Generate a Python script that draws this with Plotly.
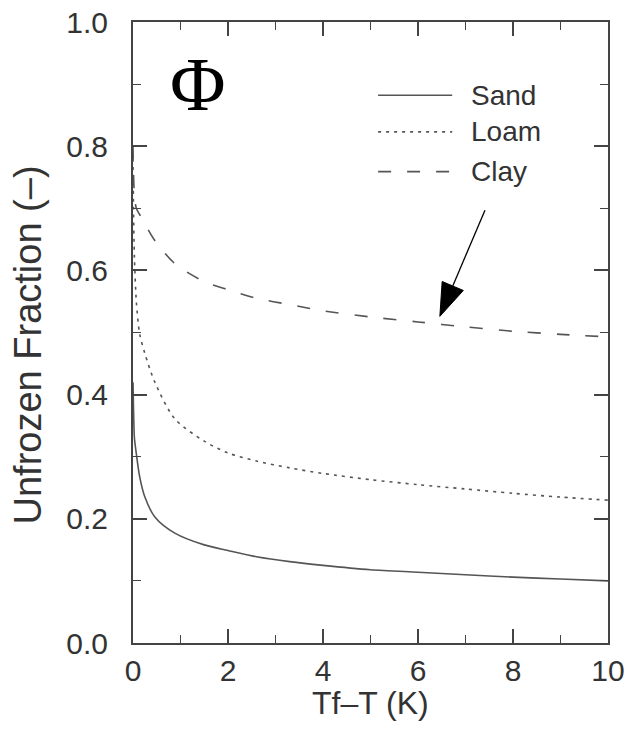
import plotly.graph_objects as go

# Temperature depression below freezing point, Tf - T (K)
tf_minus_t = [0, 0.01, 0.03, 0.07, 0.14, 0.25, 0.46, 0.88, 1.5, 2.0, 2.6,
              3.3, 4.0, 5.0, 6.0, 7.0, 8.0, 9.0, 10.0]

# Unfrozen water fraction for each soil type
sand = [0.42, 0.38, 0.33, 0.305, 0.268, 0.235, 0.203, 0.177, 0.158, 0.149,
        0.139, 0.131, 0.125, 0.118, 0.114, 0.110, 0.106, 0.103, 0.100]
loam = [0.78, 0.70, 0.62, 0.55, 0.498, 0.466, 0.420, 0.361, 0.325, 0.306,
        0.293, 0.282, 0.273, 0.263, 0.255, 0.248, 0.241, 0.235, 0.230]
clay = [0.80, 0.76, 0.72, 0.70, 0.69, 0.675, 0.648, 0.611, 0.582, 0.569,
        0.555, 0.545, 0.535, 0.525, 0.517, 0.509, 0.502, 0.497, 0.493]

series_names = ["Sand", "Loam", "Clay"]
series_dash = ["solid", "3px,5px", "13px,16px"]

x_ticks = [0, 2, 4, 6, 8, 10]
y_ticks = [0.0, 0.2, 0.4, 0.6, 0.8, 1.0]

# Arrow pointing at the clay curve (tip and tail in data units)
arrow_tip = (6.46, 0.526)
arrow_tail = (7.41, 0.697)

W, H = 629, 734
M = dict(l=133, r=21, t=22, b=91)
plot_w = W - M["l"] - M["r"]
plot_h = H - M["t"] - M["b"]
x_range = [0, 10]
y_range = [0, 1]
px_x = plot_w / (x_range[1] - x_range[0])
px_y = plot_h / (y_range[1] - y_range[0])

LINE = "#555555"
FRAME = "#444444"
TEXT = "#333333"
FONT = "Liberation Sans, Arial, Helvetica, sans-serif"

fig = go.Figure()
for name, ys, dash in zip(series_names, [sand, loam, clay], series_dash):
    fig.add_trace(go.Scatter(
        x=tf_minus_t, y=ys, name=name, mode="lines",
        line=dict(color=LINE, width=1.6, dash=dash, shape="spline", smoothing=0.8),
        showlegend=False,
    ))

# Hand-built legend: line samples and labels
legend_y = [0.882, 0.823, 0.759]
shapes = []
annotations = []
for name, dash, ly in zip(series_names, series_dash, legend_y):
    shapes.append(dict(type="line", xref="paper", yref="paper",
                       x0=0.516, x1=0.672, y0=ly, y1=ly,
                       line=dict(color=LINE, width=1.6, dash=dash)))
    annotations.append(dict(xref="paper", yref="paper", x=0.708, y=ly,
                            text=name, showarrow=False, xanchor="left",
                            yanchor="middle",
                            font=dict(family=FONT, size=28, color=TEXT)))

# Arrow: shaft plus a filled triangular head, sized in pixels
tx, ty = arrow_tip
ax_, ay_ = arrow_tail
dxp = (tx - ax_) * px_x
dyp = (ty - ay_) * px_y
norm = (dxp ** 2 + dyp ** 2) ** 0.5
ux, uy = dxp / norm, dyp / norm
head_len, head_half = 33, 11.5
bx_p, by_p = -ux * head_len, -uy * head_len
c1 = (tx + (bx_p - uy * head_half) / px_x, ty + (by_p + ux * head_half) / px_y)
c2 = (tx + (bx_p + uy * head_half) / px_x, ty + (by_p - ux * head_half) / px_y)
base = (tx + bx_p / px_x, ty + by_p / px_y)
shapes.append(dict(type="line", xref="x", yref="y", x0=ax_, y0=ay_,
                   x1=base[0], y1=base[1], line=dict(color="black", width=1.3)))
shapes.append(dict(type="path", xref="x", yref="y",
                   path=f"M{tx},{ty} L{c1[0]},{c1[1]} L{c2[0]},{c2[1]} Z",
                   fillcolor="black", line=dict(color="black", width=1)))

# Phi symbol
annotations.append(dict(xref="paper", yref="paper", x=0.136, y=0.90,
                        text="Φ", showarrow=False, xanchor="center", yanchor="middle",
                        font=dict(family="Liberation Serif, Times New Roman, serif",
                                  size=76, color="black")))

# Axis titles
annotations.append(dict(xref="paper", yref="paper", x=-0.222, y=0.48,
                        text="Unfrozen Fraction (–)", showarrow=False, textangle=-90,
                        xanchor="center", yanchor="middle",
                        font=dict(family=FONT, size=38, color=TEXT)))
annotations.append(dict(xref="paper", yref="paper", x=0.5, y=-0.097,
                        text="Tf–T (K)", showarrow=False,
                        xanchor="center", yanchor="middle",
                        font=dict(family=FONT, size=32, color=TEXT)))

axis_common = dict(
    showline=True, linecolor=FRAME, linewidth=2, mirror="allticks",
    ticks="inside", ticklen=14, tickwidth=1.5, tickcolor=FRAME,
    showgrid=False, zeroline=False, automargin=False,
    tickfont=dict(family=FONT, size=30, color=TEXT),
)

fig.update_layout(
    width=W, height=H, margin=M,
    plot_bgcolor="white", paper_bgcolor="white",
    shapes=shapes, annotations=annotations,
    xaxis=dict(range=x_range, tickvals=x_ticks, ticktext=[str(v) for v in x_ticks],
               minor=dict(dtick=1, ticks="inside", ticklen=8, tickcolor=FRAME, tickwidth=1.2),
               ticklabelstandoff=0, **axis_common),
    yaxis=dict(range=y_range, tickvals=y_ticks, ticktext=[f"{v:.1f}" for v in y_ticks],
               minor=dict(dtick=0.1, ticks="inside", ticklen=8, tickcolor=FRAME, tickwidth=1.2),
               ticklabelstandoff=17, **axis_common),
)

fig.write_html("out.html")
